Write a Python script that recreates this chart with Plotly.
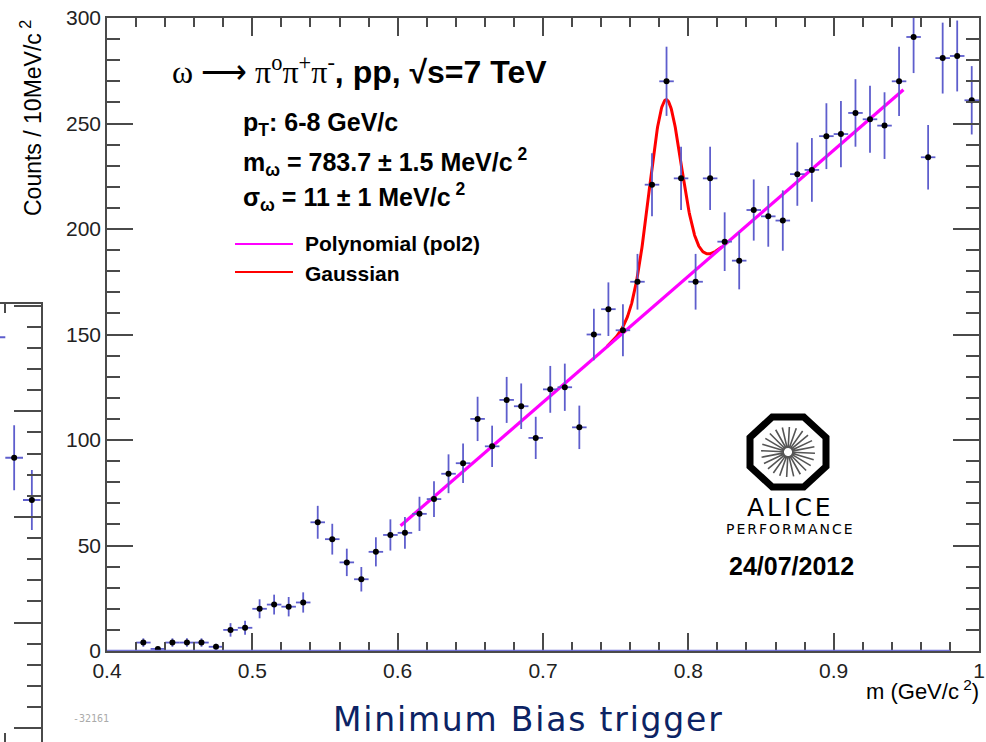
import numpy as np
import plotly.graph_objects as go

# ---------------- data ----------------
mass_centers = [0.425, 0.435, 0.445, 0.455, 0.465, 0.475, 0.485, 0.495, 0.505, 0.515,
                0.525, 0.535, 0.545, 0.555, 0.565, 0.575, 0.585, 0.595, 0.605, 0.615,
                0.625, 0.635, 0.645, 0.655, 0.665, 0.675, 0.685, 0.695, 0.705, 0.715,
                0.725, 0.735, 0.745, 0.755, 0.765, 0.775, 0.785, 0.795, 0.805, 0.815,
                0.825, 0.835, 0.845, 0.855, 0.865, 0.875, 0.885, 0.895, 0.905, 0.915,
                0.925, 0.935, 0.945, 0.955, 0.965, 0.975, 0.985, 0.995]
counts = [4, 1, 4, 4, 4, 2, 10, 11, 20, 22,
          21, 23, 61, 53, 42, 34, 47, 55, 56, 65,
          72, 84, 89, 110, 97, 119, 116, 101, 124, 125,
          106, 150, 162, 152, 175, 221, 270, 224, 175, 224,
          194, 185, 209, 206, 204, 226, 228, 244, 245, 255,
          252, 249, 270, 291, 234, 281, 282, 261]
count_errors = [2.0, 1.0, 2.0, 2.0, 2.0, 1.4, 3.2, 3.3, 4.5, 4.7,
                4.6, 4.8, 7.8, 7.3, 6.5, 5.8, 6.9, 7.4, 7.5, 8.1,
                8.5, 9.2, 9.4, 10.5, 9.8, 10.9, 10.8, 10.0, 11.1, 11.2,
                10.3, 12.2, 12.7, 12.3, 13.2, 14.9, 16.4, 15.0, 13.2, 15.0,
                13.9, 13.6, 14.5, 14.4, 14.3, 15.0, 15.1, 15.6, 15.7, 16.0,
                15.9, 15.8, 16.4, 17.1, 15.3, 16.8, 16.8, 16.2]
bin_half_width = 0.005

# neighbouring (cropped) panel on the far left
left_centers = [0.975, 0.985, 0.995]
left_counts = [235, 178, 158]
left_errors = [15.3, 15.4, 14.2]

# fit parameters
pol_p0, pol_p1, pol_p2 = -300.0, 597.0, 0.0
pol_range = [0.602, 0.948]
gaus_amp, gaus_mean, gaus_sigma = 93.0, 0.7840, 0.011
gaus_range = [0.744, 0.823]

x_ticks = [0.4, 0.5, 0.6, 0.7, 0.8, 0.9, 1.0]
x_tick_text = ["0.4", "0.5", "0.6", "0.7", "0.8", "0.9", "1"]
y_ticks = [0, 50, 100, 150, 200, 250, 300]

# ---------------- helpers ----------------
W, H = 986, 742
def px(x):
    return x / W
def py(y):
    return 1 - y / H

def pol2(m):
    return pol_p0 + pol_p1 * m + pol_p2 * m * m

ERR_COL = "rgb(94,94,205)"
AX_COL = "#4a4a4a"
FONT = "Liberation Sans, Arial, sans-serif"

fig = go.Figure()

# fitted curves
m_g = np.linspace(gaus_range[0], gaus_range[1], 300)
fig.add_trace(go.Scatter(
    x=m_g, y=pol2(m_g) + gaus_amp * np.exp(-0.5 * ((m_g - gaus_mean) / gaus_sigma) ** 2),
    mode="lines", line=dict(color="#ff0000", width=3), hoverinfo="skip", showlegend=False))
m_p = np.linspace(pol_range[0], pol_range[1], 200)
fig.add_trace(go.Scatter(
    x=m_p, y=pol2(m_p), mode="lines", line=dict(color="#ff00ff", width=3.2),
    hoverinfo="skip", showlegend=False))

# data points
fig.add_trace(go.Scatter(
    x=mass_centers, y=counts, mode="markers",
    marker=dict(color="black", size=6),
    error_y=dict(type="data", array=count_errors, color=ERR_COL, thickness=1.8, width=0),
    error_x=dict(type="data", array=[bin_half_width] * len(mass_centers), color=ERR_COL,
                 thickness=1.8, width=0),
    showlegend=False))

# left cropped panel
fig.add_trace(go.Scatter(
    x=left_centers, y=left_counts, mode="markers", xaxis="x2", yaxis="y2",
    marker=dict(color="black", size=6),
    error_y=dict(type="data", array=left_errors, color=ERR_COL, thickness=1.8, width=0),
    error_x=dict(type="data", array=[bin_half_width] * len(left_centers), color=ERR_COL,
                 thickness=1.8, width=0),
    showlegend=False, cliponaxis=True))

axis_common = dict(showline=True, linecolor=AX_COL, linewidth=1.5, ticks="inside",
                   tickcolor=AX_COL, tickwidth=1.5, showgrid=False, zeroline=False,
                   automargin=False,
                   tickfont=dict(family=FONT, size=21, color="#222"))

fig.update_layout(
    width=W, height=H, margin=dict(l=0, r=0, t=0, b=0, autoexpand=False),
    paper_bgcolor="white", plot_bgcolor="rgba(0,0,0,0)",
    xaxis=dict(domain=[px(107), px(979)], range=[0.4, 1.0], tickvals=x_ticks,
               ticktext=x_tick_text, ticklen=18, mirror="ticks", anchor="y",
               minor=dict(ticks="inside", ticklen=9, dtick=0.02, tick0=0.0,
                          tickcolor=AX_COL, tickwidth=1.5),
               **axis_common),
    yaxis=dict(domain=[py(651), py(18)], range=[0, 300], tickvals=y_ticks,
               ticklen=26, mirror="ticks", anchor="x",
               minor=dict(ticks="inside", ticklen=13, dtick=10, tick0=0,
                          tickcolor=AX_COL, tickwidth=1.5),
               **axis_common),
    xaxis2=dict(domain=[0, px(40.7)], range=[0.977, 1.0], anchor="y2",
                showline=True, linecolor=AX_COL, linewidth=1.5, mirror="ticks",
                ticks="inside", ticklen=9, dtick=0.02, tick0=0, tickcolor=AX_COL,
                tickwidth=1.5, showticklabels=False, showgrid=False, zeroline=False,
                automargin=False),
    yaxis2=dict(domain=[0, py(304.3)], range=[43.5, 250.6], anchor="x2", side="right",
                showline=True, linecolor=AX_COL, linewidth=1.5,
                ticks="inside", ticklen=27, dtick=50, tick0=0, tickcolor=AX_COL,
                tickwidth=1.5, showticklabels=False, showgrid=False, zeroline=False,
                automargin=False,
                minor=dict(ticks="inside", ticklen=14, dtick=10, tick0=0,
                           tickcolor=AX_COL, tickwidth=1.5)),
)

# blue zero line along the x axis
fig.add_shape(type="line", xref="x", yref="y", x0=0.4, x1=0.98, y0=0, y1=0,
              line=dict(color="rgba(110,110,215,0.95)", width=2.5), layer="above")

# legend lines
fig.add_shape(type="line", xref="paper", yref="paper", x0=px(235), x1=px(293),
              y0=py(244), y1=py(244), line=dict(color="#ff00ff", width=2))
fig.add_shape(type="line", xref="paper", yref="paper", x0=px(235), x1=px(293),
              y0=py(272), y1=py(272), line=dict(color="#ff0000", width=2))

def ann(text, x, y, size, xanchor="left", yanchor="middle", color="black",
        family=FONT, angle=0):
    fig.add_annotation(text=text, x=px(x), y=py(y), xref="paper", yref="paper",
                       xanchor=xanchor, yanchor=yanchor, showarrow=False,
                       textangle=angle, font=dict(family=family, size=size, color=color))

ann("<span style=\"font-family:'Liberation Serif', serif\">ω ⟶ π<sup>o</sup>π<sup>+</sup>π<sup>-</sup></span>"
    "<b>, pp, √s=7 TeV</b>", 170, 70, 32)
ann("<b>p<sub>T</sub>: 6-8 GeV/c</b>", 241, 124, 25)
ann("<b>m<sub>ω</sub> = 783.7 ± 1.5 MeV/c<sup> 2</sup></b>", 241, 162, 25)
ann("<b>σ<sub>ω</sub> = 11 ± 1 MeV/c<sup> 2</sup></b>", 241, 197, 25)
ann("<b>Polynomial (pol2)</b>", 303, 244, 21)
ann("<b>Gaussian</b>", 303, 273, 21)

ann("Counts / 10MeV/c<sup> 2</sup>", 31, 118, 23, xanchor="center", angle=-90)
ann("m (GeV/c<sup> 2</sup>)", 981, 690, 22, xanchor="right")

# ALICE performance logo
cx, cy = 788, 452
rx, ry = 38.0 / np.cos(np.pi / 8), 35.0 / np.cos(np.pi / 8)
pts = []
for k in range(8):
    a = np.pi / 8 + k * np.pi / 4
    pts.append((px(cx + rx * np.cos(a)), py(cy + ry * np.sin(a))))
path = "M " + " L ".join(f"{x:.5f},{y:.5f}" for x, y in pts) + " Z"
fig.add_shape(type="path", path=path, xref="paper", yref="paper",
              line=dict(color="black", width=7))
rays = []
for k in range(24):
    a = k * 2 * np.pi / 24 + 0.05
    rays.append(f"M {px(cx + 4 * np.cos(a)):.5f},{py(cy + 4 * np.sin(a)):.5f} "
                f"L {px(cx + 27 * np.cos(a)):.5f},{py(cy + 25 * np.sin(a)):.5f}")
fig.add_shape(type="path", path=" ".join(rays), xref="paper", yref="paper",
              line=dict(color="#555", width=1.6))
ann("<span style=\"letter-spacing:3px\">ALICE</span>", 790, 507, 25, xanchor="center",
    family="DejaVu Sans, sans-serif")
ann("<span style=\"letter-spacing:2px\">PERFORMANCE</span>", 790, 529, 14, xanchor="center",
    family="DejaVu Sans, sans-serif")
ann("<b>24/07/2012</b>", 791, 566, 25, xanchor="center")

# footer texts
ann("-32161", 91, 718, 10, xanchor="center", color="#aaaaaa",
    family="DejaVu Sans Mono, monospace")
ann("<span style=\"letter-spacing:1.8px\">Minimum Bias trigger</span>", 528, 719, 33,
    xanchor="center", color="#0c2364", family="DejaVu Sans, sans-serif")

fig.write_html("out.html")
